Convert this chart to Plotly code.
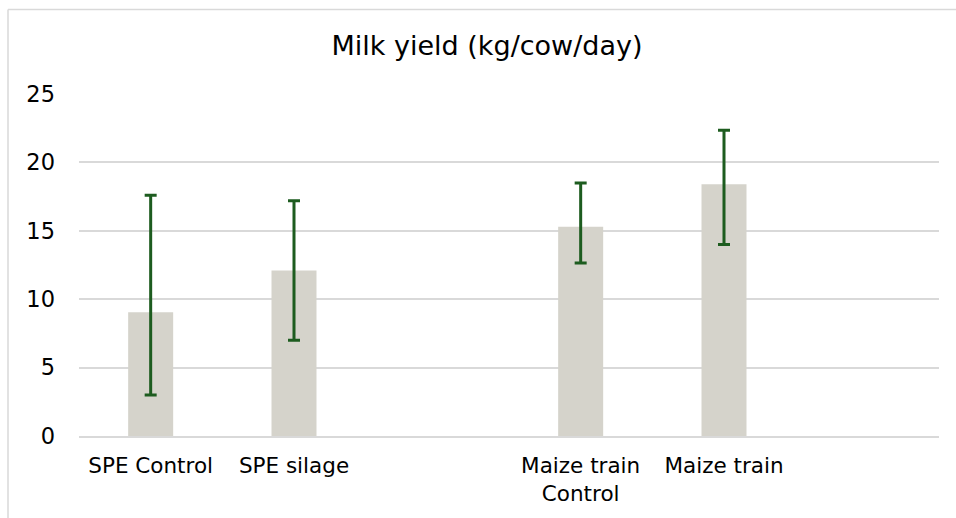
import plotly.graph_objects as go

# categories (blank slots keep the Excel-style gaps)
categories = ["SPE Control", "SPE silage", " ", "Maize train<br>Control", "Maize train", "  "]
milk_yield = [9.05, 12.1, None, 15.3, 18.4, None]
upper = [17.6, 17.2, None, 18.5, 22.35, None]
lower = [3.0, 7.0, None, 12.65, 14.0, None]
y_ticks = [0, 5, 10, 15, 20, 25]

err_plus = [u - m if m is not None else None for u, m in zip(upper, milk_yield)]
err_minus = [m - l if m is not None else None for l, m in zip(lower, milk_yield)]

FONT = "DejaVu Sans, Verdana, sans-serif"
GRID = "#D9D9D9"
W, H = 956, 518
L, R, T, B = 79, 17, 93.6, 77.7
PW, PH = W - L - R, H - T - B

fig = go.Figure()
fig.add_trace(go.Bar(
    x=categories, y=milk_yield,
    marker=dict(color="#D5D3CB", line=dict(width=0)),
    width=0.314,
    error_y=dict(
        type="data", symmetric=False,
        array=err_plus, arrayminus=err_minus,
        color="#1D5C1F", thickness=3, width=6,
    ),
    hoverinfo="skip",
))

# outer chart frame: only the left and top edges show in the picture
fx = (8 - L) / PW
fy = (H - B - 8) / PH
frame = [
    dict(type="line", xref="paper", yref="paper", x0=fx, x1=fx, y0=-0.6, y1=fy,
         line=dict(color=GRID, width=1.5), layer="below"),
    dict(type="line", xref="paper", yref="paper", x0=fx, x1=1.5, y0=fy, y1=fy,
         line=dict(color=GRID, width=1.5), layer="below"),
]

fig.update_layout(
    width=W, height=H,
    margin=dict(l=L, r=R, t=T, b=B),
    paper_bgcolor="white", plot_bgcolor="white",
    showlegend=False,
    font=dict(family=FONT, color="#000000", size=21),
    title=dict(
        text="Milk yield (kg/cow/day)",
        font=dict(family=FONT, size=27, color="#000000"),
        x=487 / W, xanchor="center",
        y=1 - 46 / H, yanchor="middle",
    ),
    shapes=frame,
)
fig.update_xaxes(
    type="category", categoryorder="array", categoryarray=categories,
    showgrid=False, zeroline=False,
    showline=True, linecolor=GRID, linewidth=1.5,
    ticks="", tickfont=dict(size=21.5), ticklabelstandoff=9,
)
fig.update_yaxes(
    range=[0, 25], tickvals=y_ticks, showgrid=True, gridcolor=GRID, gridwidth=1.5,
    zeroline=False, showline=False, ticks="",
    tickfont=dict(size=22.5), ticklabelstandoff=23,
)

# drop the browser's default body margin so the figure fills the window exactly
fig.write_html(
    "out.html",
    config={"displayModeBar": False},
    post_script="document.body.style.margin='0';document.body.style.overflow='hidden';",
)
